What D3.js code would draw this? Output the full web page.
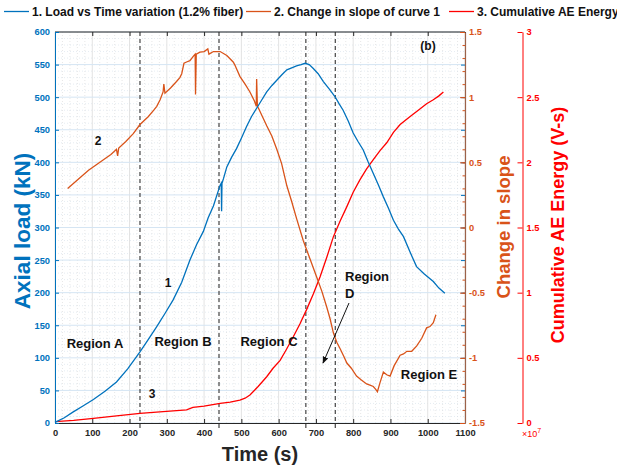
<!DOCTYPE html>
<head>
<style>
  body { margin: 0; background: #fff; }
  svg text { font-family: "Liberation Sans", Arial, sans-serif; font-weight: bold; }
</style>
</head>
<body>
<div id="chart_container"></div>
<script src="https://cdn.jsdelivr.net/npm/d3@7"></script>
<script>

// curve 1: axial load (kN) vs time (s)
const loadTime = [0,25,49,75,103,135,165,195,228,250,273,295,317,340,362,380,398,411,425,443,446,447,448,452,461,474,487,500,514,527,541,555,568,582,595,608,622,635,648,660,671,682,693,706,720,735,751,762,773,787,800,813,827,840,854,868,881,895,908,921,935,952,970,990,1015,1030,1046]
const loadKN = [1,8,17,26,36,49,63,83,109,128,148,168,189,216,250,274,294,315,333,365,368,325,368,375,393,408,421,437,455,470,483,496,508,518,526,534,542,545,548,550,552,550,544,536,524,513,501,490,480,463,445,432,419,401,383,365,347,329,311,298,286,263,240,229,217,207,199]

// curve 2: change in slope
const slopeTime = [34,50,70,90,110,130,150,165,168,171,190,210,228,250,265,273,282,290,292,295,310,326,335,340,346,353,362,373,376,377,379,389,400,410,413,425,443,461,478,482,496,510,523,535,540,541,543,546,568,582,595,608,622,635,648,666,684,702,716,729,738,747,756,765,775,783,795,809,822,836,845,854,860,865,872,881,890,899,910,926,935,944,957,970,984,997,1006,1015,1022]
const slopeVals = [0.30,0.34,0.39,0.44,0.48,0.52,0.56,0.60,0.55,0.61,0.66,0.72,0.79,0.85,0.90,0.93,0.98,1.04,1.10,1.03,1.07,1.12,1.15,1.18,1.26,1.27,1.28,1.32,1.33,1.02,1.33,1.345,1.35,1.37,1.33,1.35,1.35,1.32,1.27,1.25,1.16,1.10,1.04,0.97,0.93,1.14,0.93,0.915,0.78,0.70,0.60,0.49,0.32,0.20,0.07,-0.10,-0.24,-0.38,-0.49,-0.61,-0.70,-0.81,-0.88,-0.93,-0.99,-1.04,-1.08,-1.14,-1.17,-1.20,-1.21,-1.22,-1.24,-1.26,-1.19,-1.11,-1.13,-1.14,-1.06,-0.98,-0.97,-0.95,-0.95,-0.91,-0.85,-0.77,-0.76,-0.73,-0.67]

// curve 3: cumulative AE energy (x10^7 V-s)
const energyTime = [0,50,103,165,228,290,353,370,400,443,470,496,510,523,545,568,585,604,620,639,657,675,693,711,729,747,765,783,800,818,836,854,872,890,908,926,952,979,997,1015,1030,1042]
const energyVals = [0.01,0.02,0.036,0.055,0.074,0.087,0.10,0.12,0.13,0.15,0.16,0.176,0.19,0.215,0.28,0.355,0.42,0.48,0.56,0.66,0.76,0.87,0.99,1.12,1.27,1.43,1.55,1.66,1.77,1.865,1.95,2.02,2.09,2.15,2.23,2.29,2.35,2.41,2.45,2.48,2.51,2.54]

// region boundaries (s)
const regionLines = [228, 440, 673, 752]

const xTicks = d3.range(0, 1101, 100)
const loadTicks = d3.range(0, 601, 50)
const slopeTicks = [-1.5, -1, -0.5, 0, 0.5, 1, 1.5]
const energyTicks = [0, 0.5, 1, 1.5, 2, 2.5, 3]

const width = 617
const height = 470
const pL = 55, pR = 465, pT = 32, pB = 423

const blue = '#0072BD', orange = '#D95319', red = '#FF0000', dark = '#262626'
const plain = d => String(d)

const svg = d3.select('#chart_container')
  .append('svg')
  .attr('width', width)
  .attr('height', height)

const x = d3.scaleLinear().domain([0, 1100]).range([pL, pR])
const yLoad = d3.scaleLinear().domain([0, 600]).range([pB, pT])
const ySlope = d3.scaleLinear().domain([-1.5, 1.5]).range([pB, pT])
const yAE = d3.scaleLinear().domain([0, 3]).range([pB, pT])

// grid
const grid = svg.append('g')
grid.selectAll('.vminor').data(d3.range(0, 1101, 20).filter(v => v % 100))
  .enter().append('line')
  .attr('x1', d => x(d)).attr('x2', d => x(d)).attr('y1', pT).attr('y2', pB)
  .attr('stroke', '#d6d6d6').attr('stroke-width', 0.6).attr('stroke-dasharray', '1,2')
grid.selectAll('.hminor').data(d3.range(0, 601, 10).filter(v => v % 50))
  .enter().append('line')
  .attr('x1', pL).attr('x2', pR).attr('y1', d => yLoad(d)).attr('y2', d => yLoad(d))
  .attr('stroke', '#d3dfea').attr('stroke-width', 0.6).attr('stroke-dasharray', '1,2')
grid.selectAll('.vmajor').data(xTicks)
  .enter().append('line')
  .attr('x1', d => x(d)).attr('x2', d => x(d)).attr('y1', pT).attr('y2', pB)
  .attr('stroke', '#e3e3e3').attr('stroke-width', 1)
grid.selectAll('.hmajor').data(loadTicks)
  .enter().append('line')
  .attr('x1', pL).attr('x2', pR).attr('y1', d => yLoad(d)).attr('y2', d => yLoad(d))
  .attr('stroke', '#d5e5f3').attr('stroke-width', 1)

// region dashed lines
svg.selectAll('.region').data(regionLines)
  .enter().append('line')
  .attr('x1', d => x(d)).attr('x2', d => x(d)).attr('y1', pT).attr('y2', pB + 5)
  .attr('stroke', '#444').attr('stroke-width', 1.2).attr('stroke-dasharray', '4,3')

// curves
const lineOf = (xs, ys, yScale) => d3.line()
  .x((d, i) => x(xs[i]))
  .y(d => yScale(d))(ys)

svg.append('path').attr('d', lineOf(energyTime, energyVals, yAE))
  .attr('fill', 'none').attr('stroke', red).attr('stroke-width', 1.3)
svg.append('path').attr('d', lineOf(slopeTime, slopeVals, ySlope))
  .attr('fill', 'none').attr('stroke', orange).attr('stroke-width', 1.3)
svg.append('path').attr('d', lineOf(loadTime, loadKN, yLoad))
  .attr('fill', 'none').attr('stroke', blue).attr('stroke-width', 1.3)

// top border
svg.append('line').attr('x1', pL).attr('x2', pR).attr('y1', pT).attr('y2', pT)
  .attr('stroke', dark).attr('stroke-width', 1)

// x axis (bottom and top ticks)
const xAxis = svg.append('g')
  .attr('transform', `translate(0,${pB})`)
  .call(d3.axisBottom(x).tickValues(xTicks).tickFormat(plain).tickSizeInner(-4).tickSizeOuter(0).tickPadding(6))
xAxis.select('.domain').attr('stroke', dark)
xAxis.selectAll('line').attr('stroke', dark)
xAxis.selectAll('text').attr('fill', dark).style('font-size', '9.3px')

svg.append('g')
  .attr('transform', `translate(0,${pT})`)
  .call(d3.axisTop(x).tickValues(xTicks).tickSizeInner(-4).tickSizeOuter(0).tickFormat(''))
  .call(g => g.select('.domain').remove())
  .selectAll('line').attr('stroke', dark)

// left axis
const yAxisL = svg.append('g')
  .attr('transform', `translate(${pL},0)`)
  .call(d3.axisLeft(yLoad).tickValues(loadTicks).tickFormat(plain).tickSizeInner(-4).tickSizeOuter(0).tickPadding(5))
yAxisL.select('.domain').attr('stroke', blue)
yAxisL.selectAll('line').attr('stroke', blue)
yAxisL.selectAll('text').attr('fill', blue).style('font-size', '9.3px')

// load ticks mirrored on the right edge
svg.append('g')
  .attr('transform', `translate(${pR},0)`)
  .call(d3.axisRight(yLoad).tickValues(loadTicks).tickSizeInner(-4).tickSizeOuter(0).tickFormat(''))
  .call(g => g.select('.domain').remove())
  .selectAll('line').attr('stroke', blue)

// slope axis (right edge)
svg.append('g')
  .attr('transform', `translate(${pR},0)`)
  .call(d3.axisRight(ySlope).tickValues(d3.range(-15, 16, 1).map(v => v / 10)).tickSizeInner(-2.5).tickSizeOuter(0).tickFormat(''))
  .call(g => g.select('.domain').remove())
  .selectAll('line').attr('stroke', orange)

const yAxisS = svg.append('g')
  .attr('transform', `translate(${pR},0)`)
  .call(d3.axisRight(ySlope).tickValues(slopeTicks).tickFormat(plain).tickSizeInner(-5).tickSizeOuter(0).tickPadding(4))
yAxisS.select('.domain').attr('stroke', '#9b6249').attr('stroke-width', 1.2)
yAxisS.selectAll('line').attr('stroke', orange)
yAxisS.selectAll('text').attr('fill', orange).style('font-size', '9.3px')

// energy axis
const yAxisE = svg.append('g')
  .attr('transform', 'translate(522.5,0)')
  .call(d3.axisRight(yAE).tickValues(energyTicks).tickFormat(plain).tickSizeInner(-5).tickSizeOuter(0).tickPadding(4))
yAxisE.select('.domain').attr('stroke', red)
yAxisE.selectAll('line').attr('stroke', red)
yAxisE.selectAll('text').attr('fill', red).style('font-size', '9.3px')

const expo = svg.append('text').attr('x', 522).attr('y', 437).attr('fill', red)
  .style('font-size', '9px').style('font-weight', 'normal')
expo.append('tspan').text('×10')
expo.append('tspan').attr('dy', -4).style('font-size', '7px').text('7')

// axis titles
svg.append('text').attr('x', 260).attr('y', 461).attr('text-anchor', 'middle')
  .attr('fill', dark).style('font-size', '20px').text('Time (s)')
svg.append('text').attr('transform', 'translate(30,231) rotate(-90)').attr('text-anchor', 'middle')
  .attr('fill', blue).style('font-size', '22.5px').text('Axial load (kN)')
svg.append('text').attr('transform', 'translate(510,227) rotate(-90)').attr('text-anchor', 'middle')
  .attr('fill', orange).style('font-size', '18.5px').text('Change in slope')
svg.append('text').attr('transform', 'translate(564,225) rotate(-90)').attr('text-anchor', 'middle')
  .attr('fill', red).style('font-size', '18px').text('Cumulative AE Energy (V-s)')

// annotations
const notes = [
  ['(b)', 428, 50, 12],
  ['2', 98, 145, 12],
  ['1', 168, 287, 12],
  ['3', 152, 398, 12],
  ['Region A', 95, 348, 13],
  ['Region B', 183, 346, 13],
  ['Region C', 269, 346, 13],
  ['Region E', 429, 379, 13]
]
svg.selectAll('.note').data(notes).enter().append('text')
  .attr('x', d => d[1]).attr('y', d => d[2]).attr('text-anchor', 'middle')
  .style('font-size', d => d[3] + 'px').attr('fill', '#111').text(d => d[0])

svg.append('text').attr('x', 345).attr('y', 281).style('font-size', '13px').attr('fill', '#111').text('Region')
svg.append('text').attr('x', 345).attr('y', 298).style('font-size', '13px').attr('fill', '#111').text('D')

svg.append('defs').append('marker')
  .attr('id', 'arrow').attr('viewBox', '0 0 10 10').attr('refX', 9).attr('refY', 5)
  .attr('markerWidth', 7).attr('markerHeight', 7).attr('orient', 'auto')
  .append('path').attr('d', 'M0,1 L10,5 L0,9 z').attr('fill', '#111')
svg.append('line').attr('x1', 349).attr('y1', 303).attr('x2', 323).attr('y2', 363)
  .attr('stroke', '#111').attr('stroke-width', 1).attr('marker-end', 'url(#arrow)')

// legend
const legend = [
  ['1. Load vs Time variation (1.2% fiber)', blue, 4],
  ['2. Change in slope of curve 1', orange, 246],
  ['3. Cumulative AE Energy', red, 449]
]
const lg = svg.append('g')
legend.forEach(([label, color, lx]) => {
  lg.append('line').attr('x1', lx).attr('x2', lx + 25).attr('y1', 11.5).attr('y2', 11.5)
    .attr('stroke', color).attr('stroke-width', 1.3)
  lg.append('text').attr('x', lx + 28).attr('y', 15.8).attr('fill', '#111')
    .style('font-size', '12px').text(label)
})

</script>
</body>
